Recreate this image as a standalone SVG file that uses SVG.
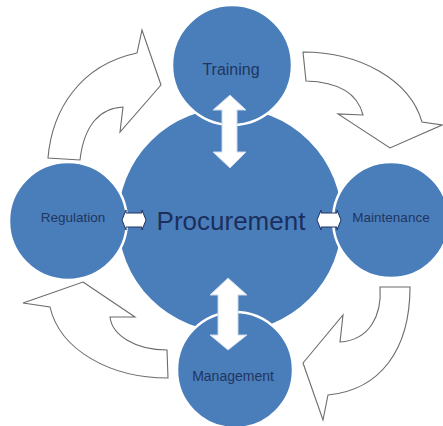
<svg xmlns="http://www.w3.org/2000/svg" width="443" height="426" viewBox="0 0 443 426">
<style>
.c{fill:#4a7ebb;stroke:#ffffff;stroke-width:2.5}
.cy{fill:#ffffff;stroke:#6b6b6b;stroke-width:1.1;stroke-linejoin:miter}
.da{fill:#ffffff;stroke:#c9d7ea;stroke-width:1}
.sa{fill:#ffffff;stroke:#1f3560;stroke-width:1}
.t{font-family:"Liberation Sans",Arial,sans-serif;fill:#1f3560;text-anchor:middle}
</style>
<rect width="443" height="426" fill="#ffffff"/>
<g id="cycle-arrows">
<path class="cy" d="M48,158 C52,110 80,65 137,53 L142,30 L161,85 L120,132 L123,107 C100,108 84,125 80,160 Z"/>
<path class="cy" d="M303,52 C360,52 410,80 422,122 L442,125 L390,148 L338,114 L363,115 C358,95 340,82 306,81 Z"/>
<path class="cy" d="M83,282 L135,317 L110,317 C112,335 135,350 167,350 L168,378 C110,378 60,350 50,307 L23,303 Z"/>
<path class="cy" d="M380,287 L410,287 C410,350 380,390 328,395 L323,420 L303,363 L343,315 L340,342 C370,340 382,315 380,287 Z"/>
</g>
<g id="procurement">
<circle class="c" cx="230" cy="220" r="113"/>
</g>
<g id="training">
<circle class="c" cx="232" cy="65" r="60"/>
<text class="t" x="231" y="75" font-size="16">Training</text>
</g>
<g id="regulation">
<circle class="c" cx="68" cy="221" r="59"/>
<text class="t" x="73" y="222" font-size="13.5">Regulation</text>
</g>
<g id="maintenance">
<circle class="c" cx="391" cy="220" r="58"/>
<text class="t" x="391" y="222" font-size="13.5">Maintenance</text>
</g>
<g id="management">
<circle class="c" cx="235" cy="370" r="58"/>
<text class="t" x="233" y="381" font-size="14">Management</text>
</g>
<g id="connectors">
<polygon class="da" points="230,95 246,110 237,110 237,152 246,152 230,168 213,152 222,152 222,110 213,110"/>
<polygon class="da" points="228,278 247,295 238,295 238,335 247,335 228,350 210,335 218,335 218,295 210,295"/>
<polygon class="sa" points="122,220 126,210 126,213 142,213 142,210 146,220 142,230 142,227 126,227 126,230"/>
<polygon class="sa" points="317,220 321,210 321,213 337,213 337,210 341,220 337,230 337,227 321,227 321,230"/>
</g>
<text class="t" x="231" y="230" font-size="26" fill="#1b2f5c" style="fill:#1b2f5c">Procurement</text>
</svg>
